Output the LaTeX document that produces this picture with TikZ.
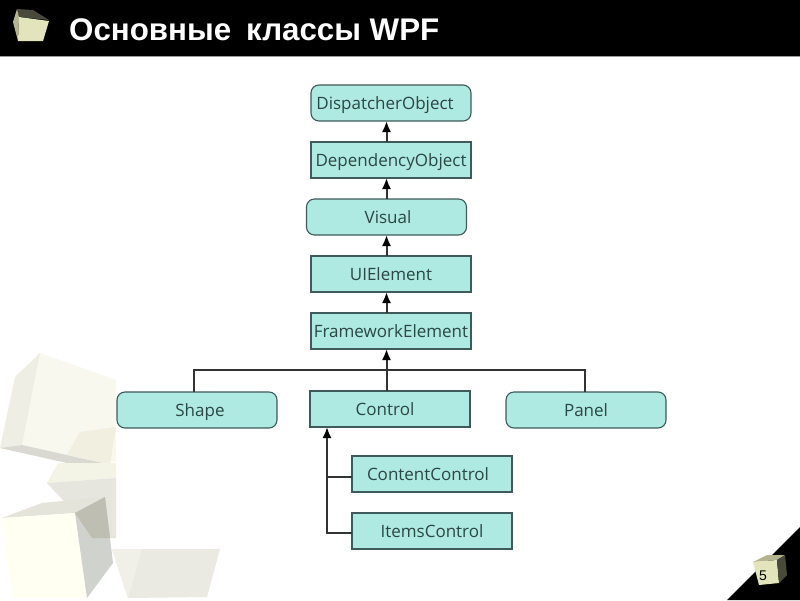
\documentclass[tikz,border=0pt]{standalone}
\usepackage{fontspec}
\setmainfont{Open Sans}
\newfontfamily\titlefont{Liberation Sans}
\usepackage{xcolor}
\usetikzlibrary{positioning, arrows.meta}
\definecolor{boxfill}{HTML}{AEEAE1}
\definecolor{boxline}{HTML}{3E5A5A}
\definecolor{boxtext}{HTML}{2A4646}
\definecolor{iconfront}{HTML}{E4E4BC}
\definecolor{iconside}{HTML}{B4B490}
\definecolor{icontop}{HTML}{4A4A3C}

\begin{document}
\begin{tikzpicture}
    [
      x=1pt, y=-1pt,
      classbox/.style = {shape=rectangle, draw=boxline, fill=boxfill, line width=1.1pt, text=boxtext, inner sep=0pt, outer sep=0pt,
        minimum width=160pt, minimum height=36pt, text height=14pt, text depth=1pt, font=\fontsize{17}{20}\selectfont},
      roundbox/.style = {classbox, rounded corners=8pt},
      link/.style = {draw=black!80, line width=2pt},
      inherit/.style = {link, -{Latex[length=11pt,width=9pt,black]}}
    ]
    \useasboundingbox (0,0) rectangle (800,600);
    \fill[white] (0,0) rectangle (800,600);

    % cubes in the lower left corner
    \fill[fill={rgb,255:red,248;green,248;blue,238}] (40,353) -- (116,380) -- (116,462) -- (103,463) -- (22,445) -- cycle;
    \fill[fill={rgb,255:red,238;green,238;blue,228}] (40,353) -- (15,377) -- (0,448) -- (22,445) -- cycle;
    \fill[fill={rgb,255:red,217;green,217;blue,210}] (0,448) -- (22,445) -- (103,463) -- (67,463) -- cycle;
    \fill[fill={rgb,255:red,240;green,239;blue,224}] (80,432) -- (116,427) -- (110,464) -- (67,455) -- cycle;
    \fill[fill={rgb,255:red,243;green,243;blue,230}] (58,463) -- (116,463) -- (116,478) -- (47,483) -- cycle;
    \fill[fill={rgb,255:red,230;green,230;blue,222}] (47,483) -- (116,478) -- (116,538) -- (92,538) -- (75,513) -- cycle;
    \fill[fill={rgb,255:red,228;green,228;blue,218}] (2,518) -- (42,503) -- (105,497) -- (75,513) -- cycle;
    \fill[fill={rgb,255:red,255;green,255;blue,242}] (2,518) -- (75,513) -- (87,598) -- (12,598) -- cycle;
    \fill[fill={rgb,255:red,208;green,210;blue,205}] (75,513) -- (105,497) -- (113,563) -- (87,598) -- cycle;
    \fill[fill={rgb,255:red,190;green,190;blue,178}] (75,513) -- (105,497) -- (110,538) -- (92,538) -- cycle;
    \fill[fill={rgb,255:red,234;green,234;blue,226}] (112,549) -- (220,549) -- (207,597) -- (128,598) -- cycle;
    \fill[fill={rgb,255:red,240;green,240;blue,232}] (112,549) -- (142,549) -- (128,598) -- cycle;

    % header and corner
    \fill[black] (0,0) rectangle (800,56);
    \fill[black!40!white] (0,56) rectangle (800,57);
    \fill[black] (800,527) -- (800,600) -- (727,600) -- cycle;
    \fill[icontop] (17,9) -- (33,10) -- (49,20) -- (19,17) -- cycle;
    \fill[iconside] (17,9) -- (13,22) -- (18,41) -- (19,17) -- cycle;
    \fill[iconfront] (19,17) -- (49,21) -- (43,41) -- (18,41) -- cycle;
    \fill[iconside] (753,562) -- (767,555) -- (785,555) -- (777,560) -- cycle;
    \fill[iconfront] (753,562) -- (777,560) -- (779,583) -- (759,585) -- cycle;
    \fill[icontop] (777,560) -- (785,555) -- (787,575) -- (779,583) -- cycle;
    \node (pagenum) at (763,576) {\titlefont\fontsize{14}{16}\selectfont 5};
    \node[anchor=west, inner sep=0pt, text=white] (title) at (69,30)
      {\titlefont\bfseries\fontsize{31.3}{34}\selectfont Основные\hspace{0.2em} классы WPF};

    % class boxes
    \node[roundbox] (dispatcher) at (391,103) {\hspace*{-12pt}DispatcherObject};
    \node[classbox, below=21pt of dispatcher] (dependency) {DependencyObject};
    \node[roundbox, below=21pt of dependency, xshift=-4.5pt] (visual) {\hspace*{3pt}Visual};
    \node[classbox, below=21pt of visual, xshift=4.5pt] (uielement) {UIElement};
    \node[classbox, below=21pt of uielement] (framework) {FrameworkElement};
    \node[classbox, below=42pt of framework, xshift=-1pt] (control) {\hspace*{-10pt}Control};
    \node[roundbox, left=33pt of control, yshift=-1pt] (shape) {\hspace*{6pt}Shape};
    \node[roundbox, right=36pt of control, yshift=-1pt] (panel) {Panel};
    \node[classbox, below=29pt of control, xshift=42pt] (content) {\hspace*{-8pt}ContentControl};
    \node[classbox, below=21pt of content] (items) {ItemsControl};

    \coordinate (bus) at (framework.south -| visual.north);
    \coordinate (busmid) at ([yshift=21pt]control.north -| visual.north);
    \coordinate (ctrlfoot) at ([xshift=-63pt]control.south);

    % connectors
    \draw[inherit] (dependency.north -| visual.north) -- (dispatcher.south -| visual.north);
    \draw[inherit] (visual.north) -- (dependency.south -| visual.north);
    \draw[inherit] (uielement.north -| visual.north) -- (visual.south);
    \draw[inherit] (framework.north -| visual.north) -- (uielement.south -| visual.north);
    \draw[inherit] (control.north -| visual.north) -- (bus);
    \draw[link] ([xshift=-3pt]shape.north) |- (busmid);
    \draw[link] ([xshift=-1pt]panel.north) |- (busmid);
    \draw[inherit] ([yshift=-2pt]items.west) -| (ctrlfoot);
    \draw[link] ([yshift=-3pt]content.west) -- ([yshift=-3pt]content.west -| ctrlfoot);
\end{tikzpicture}
\end{document}
